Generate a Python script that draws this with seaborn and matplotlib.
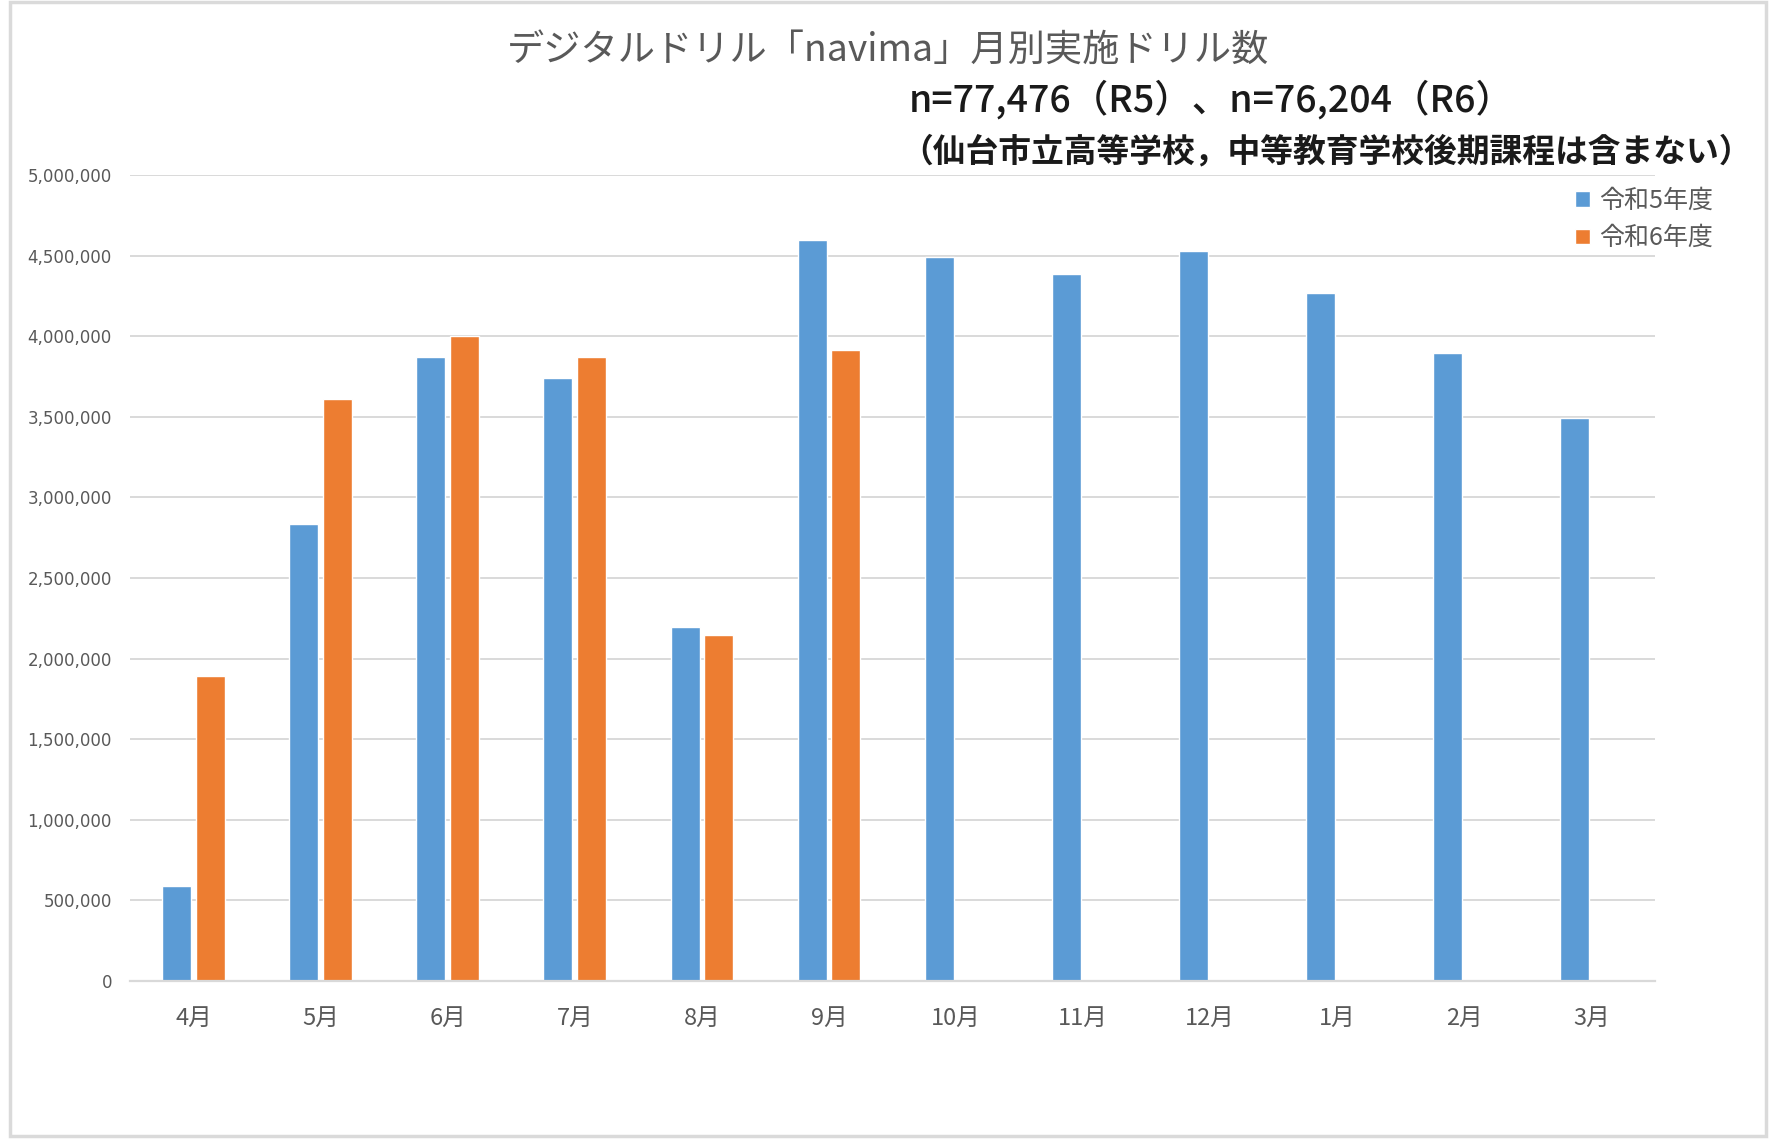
import matplotlib
matplotlib.use("Agg")
import matplotlib.pyplot as plt
from matplotlib.patches import Rectangle
from matplotlib.ticker import FuncFormatter
import seaborn as sns
import pandas as pd
import numpy as np

months = ["4月", "5月", "6月", "7月", "8月", "9月", "10月", "11月", "12月", "1月", "2月", "3月"]
r5_values = [590000, 2832000, 3874000, 3741000, 2196000, 4594000, 4490000, 4385000, 4531000, 4266000, 3895000, 3490000]
r6_values = [1895000, 3608000, 4000000, 3874000, 2147000, 3916000, np.nan, np.nan, np.nan, np.nan, np.nan, np.nan]
series_names = ["令和5年度", "令和6年度"]
colors = ["#5B9BD5", "#ED7D31"]
y_ticks = [0, 500000, 1000000, 1500000, 2000000, 2500000, 3000000, 3500000, 4000000, 4500000, 5000000]

title1 = "デジタルドリル「navima」月別実施ドリル数"
title2 = "n=77,476（R5）、n=76,204（R6）"
title3 = "（仙台市立高等学校，中等教育学校後期課程は含まない）"

df = pd.DataFrame({
    "month": months * 2,
    "value": r5_values + r6_values,
    "year": [series_names[0]] * len(months) + [series_names[1]] * len(months),
})

sns.set_theme(style="white")
plt.rcParams["font.family"] = ["Noto Sans CJK JP", "DejaVu Sans"]

W, H = 1769, 1139
fig = plt.figure(figsize=(W / 100, H / 100), dpi=100)
fig.patch.set_facecolor("white")
ax = fig.add_axes([130 / W, 1 - 981 / H, (1655 - 130) / W, (981 - 175) / H])

sns.barplot(data=df, x="month", y="value", hue="year", order=months,
            hue_order=series_names, palette=colors, width=0.53, gap=0.14,
            saturation=1, ax=ax, errorbar=None, legend=True)

ax.set_xlim(-0.5, len(months) - 0.5)
ax.set_ylim(0, 5000000)
ax.set_yticks(y_ticks)
ax.yaxis.set_major_formatter(FuncFormatter(lambda v, p: f"{int(v):,}"))
ax.grid(axis="y", color="#D9D9D9", linewidth=1.4)
ax.set_axisbelow(True)
for s in ["left", "right", "top"]:
    ax.spines[s].set_visible(False)
ax.spines["bottom"].set_color("#D9D9D9")
ax.spines["bottom"].set_linewidth(1.6)
ax.set_xlabel("")
ax.set_ylabel("")
ax.tick_params(axis="y", length=0, pad=13, labelsize=12, labelcolor="#595959")
ax.tick_params(axis="x", length=0, pad=19, labelsize=17, labelcolor="#595959")
for lab in ax.get_yticklabels():
    lab.set_family(["DejaVu Sans"])

handles, labels = ax.get_legend_handles_labels()
ax.legend(handles, labels, loc="upper left", bbox_to_anchor=(1565 / W, 1 - 178 / H),
          bbox_transform=fig.transFigure, frameon=False, fontsize=18,
          handlelength=0.6, handleheight=0.6, handletextpad=0.35,
          labelspacing=0.45, labelcolor="#595959", borderaxespad=0)

fig.text(888 / W, 1 - 50 / H, title1, ha="center", va="center", fontsize=26.8, color="#595959")
fig.text(909 / W, 1 - 100 / H, title2, ha="left", va="center", fontsize=27,
         color="#1a1a1a", fontweight="medium")
fig.text(900 / W, 1 - 152 / H, title3, ha="left", va="center", fontsize=23.6,
         color="#1a1a1a", fontweight="bold")

fig.patches.append(Rectangle((10 / W, 3 / H), (1766 - 10) / W, (1137 - 3) / H,
                             transform=fig.transFigure, fill=False,
                             edgecolor="#DADADA", linewidth=2.5))

fig.savefig("out.png", dpi=100, facecolor="white")
